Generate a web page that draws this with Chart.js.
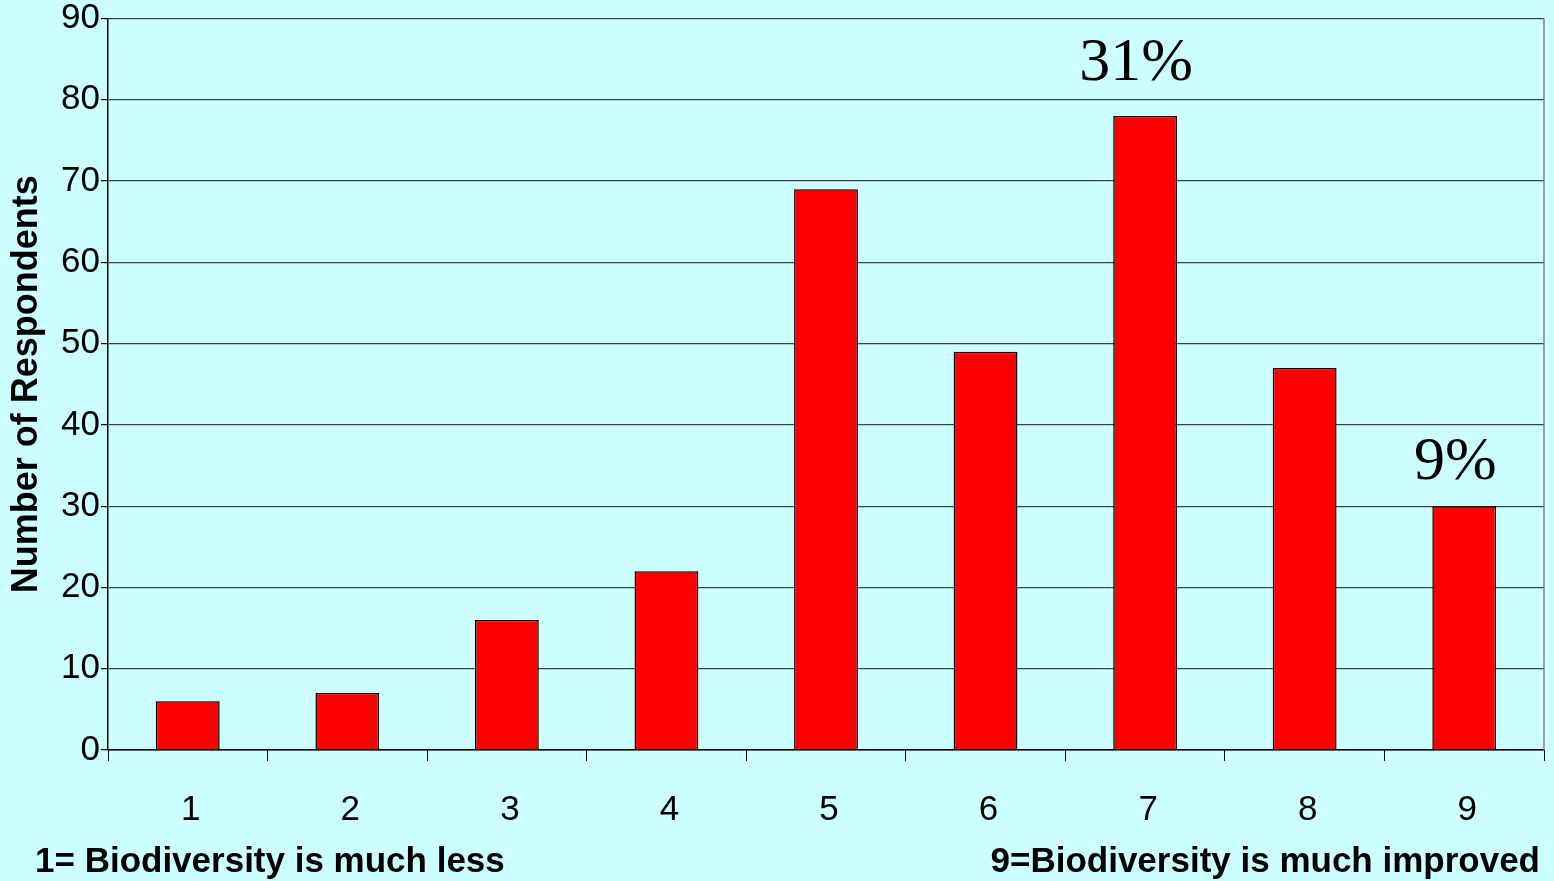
<!DOCTYPE html>
<html>
<head>
<meta charset="utf-8">
<script src="https://cdn.jsdelivr.net/npm/chart.js@4.4.1/dist/chart.umd.min.js"></script>
<style>
  html, body { margin: 0; padding: 0; background: #CCFFFF; }
  #wrap { width: 1554px; height: 881px; }
  canvas { display: block; }
</style>
</head>
<body>
<div id="wrap"><canvas id="c" width="1554" height="881"></canvas></div>
<script>
// Survey answers on a 1–9 scale
const categories = ['1', '2', '3', '4', '5', '6', '7', '8', '9'];
const respondents = [6, 7, 16, 22, 69, 49, 78, 47, 30];
const yTicks = [0, 10, 20, 30, 40, 50, 60, 70, 80, 90];

// Share labels shown above selected bars
const shareCategories = ['7', '9'];
const shareLabels = ['31%', '9%'];

const leftCaption = '1= Biodiversity is much less';
const rightCaption = '9=Biodiversity is much improved';

const shareLabelOffsets = [36, 27];
const sansFamily = '"Liberation Sans", Arial, sans-serif';

const decorations = {
  id: 'decorations',
  afterDatasetsDraw(chart) {
    const ctx = chart.ctx;
    const area = chart.chartArea;
    const meta = chart.getDatasetMeta(0);
    ctx.save();
    // right edge of the plot frame
    ctx.strokeStyle = '#808080';
    ctx.lineWidth = 1.5;
    ctx.beginPath();
    ctx.moveTo(area.right, area.top);
    ctx.lineTo(area.right, area.bottom);
    ctx.stroke();

    // percentage labels above bars
    ctx.fillStyle = '#000';
    ctx.font = '62px "Liberation Serif", "Times New Roman", serif';
    ctx.textAlign = 'center';
    ctx.textBaseline = 'alphabetic';
    shareCategories.forEach((cat, k) => {
      const idx = categories.indexOf(cat);
      const bar = meta.data[idx];
      ctx.fillText(shareLabels[k], bar.x - 9, bar.y - shareLabelOffsets[k]);
    });

    // scale end captions
    ctx.font = 'bold 35px ' + sansFamily;
    ctx.textAlign = 'left';
    ctx.fillText(leftCaption, 35, chart.height - 9);
    ctx.textAlign = 'right';
    ctx.fillText(rightCaption, chart.width - 14, chart.height - 9);
    ctx.restore();
  }
};

new Chart(document.getElementById('c'), {
  type: 'bar',
  data: {
    labels: categories,
    datasets: [{
      data: respondents,
      backgroundColor: '#FF0000',
      borderColor: '#000000',
      borderWidth: 1.5,
      barPercentage: 0.4,
      categoryPercentage: 1.0
    }]
  },
  options: {
    responsive: false,
    animation: false,
    devicePixelRatio: 1,
    layout: { padding: { top: 18, right: 10, left: 0, bottom: 0 } },
    plugins: {
      legend: { display: false },
      tooltip: { enabled: false }
    },
    scales: {
      x: {
        offset: true,
        grid: {
          offset: true,
          drawOnChartArea: false,
          drawTicks: true,
          tickLength: 11,
          color: '#000',
          lineWidth: 1
        },
        border: { display: true, color: '#000', width: 1.5 },
        ticks: {
          color: '#000',
          font: { family: sansFamily, size: 35, lineHeight: 1 },
          padding: 32,
          labelOffset: 3,
          maxRotation: 0
        },
        afterFit(scale) { scale.height = 131; }
      },
      y: {
        min: 0,
        max: 90,
        afterBuildTicks(scale) { scale.ticks = yTicks.map(v => ({ value: v })); },
        grid: {
          color: '#404040',
          lineWidth: 1.2,
          drawTicks: true,
          tickLength: 7,
          tickColor: '#000'
        },
        border: { display: true, color: '#000', width: 1.5 },
        ticks: {
          color: '#000',
          font: { family: sansFamily, size: 35, lineHeight: 1 },
          padding: 1
        },
        title: {
          display: true,
          text: 'Number of Respondents',
          color: '#000',
          font: { family: sansFamily, size: 36, weight: 'bold', lineHeight: 1.2 },
          padding: { top: 5, bottom: 0 }
        },
        afterFit(scale) { scale.width = 108; }
      }
    }
  },
  plugins: [decorations]
});
</script>
</body>
</html>
